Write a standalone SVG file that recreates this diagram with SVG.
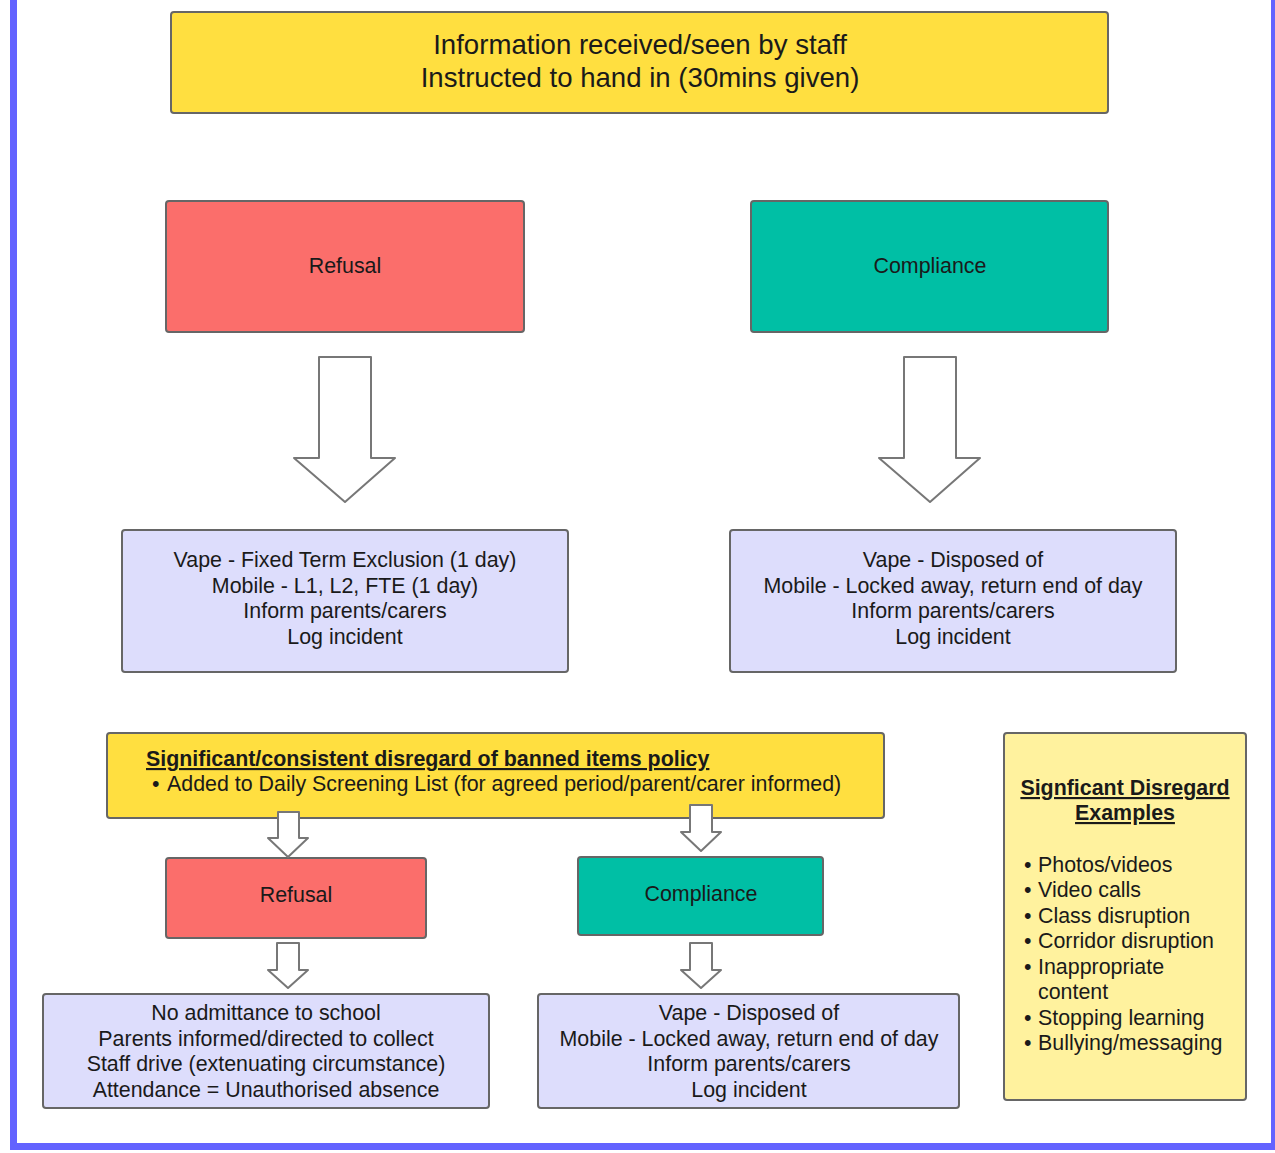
<svg xmlns="http://www.w3.org/2000/svg" width="1275" height="1153" viewBox="0 0 1275 1153">
<style>
text{font-family:"Liberation Sans",Arial,sans-serif;font-size:21.4px;fill:#1a1a1a}
.c{text-anchor:middle}
.big{font-size:27.6px}
.b{font-weight:bold;text-decoration:underline}
.box{stroke:#666;stroke-width:2}
.yel{fill:#FFDF40}
.red{fill:#FB6E6B}
.teal{fill:#00BFA5}
.lav{fill:#DDDDFC}
.pale{fill:#FFF29E}
.arr{fill:#fff;stroke:#777;stroke-width:2;stroke-linejoin:round}
</style>
<rect x="0" y="0" width="1275" height="1153" fill="#fff"/>
<rect x="13.5" y="-10" width="1261" height="1156.5" fill="none" stroke="#6363FF" stroke-width="7"/>

<g id="start">
<rect class="box yel" x="171" y="12" width="937" height="101" rx="3"/>
<text class="c big" x="640" y="54">Information received/seen by staff</text>
<text class="c big" x="640" y="87">Instructed to hand in (30mins given)</text>
</g>

<g id="refusal">
<rect class="box red" x="166" y="201" width="358" height="131" rx="3"/>
<text class="c" x="345" y="273">Refusal</text>
</g>

<g id="compliance">
<rect class="box teal" x="751" y="201" width="357" height="131" rx="3"/>
<text class="c" x="930" y="273">Compliance</text>
</g>

<g id="refusal-outcome">
<rect class="box lav" x="122" y="530" width="446" height="142" rx="3"/>
<text class="c" x="345" y="567">Vape - Fixed Term Exclusion (1 day)</text>
<text class="c" x="345" y="593">Mobile - L1, L2, FTE (1 day)</text>
<text class="c" x="345" y="618">Inform parents/carers</text>
<text class="c" x="345" y="644">Log incident</text>
</g>

<g id="compliance-outcome">
<rect class="box lav" x="730" y="530" width="446" height="142" rx="3"/>
<text class="c" x="953" y="567">Vape - Disposed of</text>
<text class="c" x="953" y="593">Mobile - Locked away, return end of day</text>
<text class="c" x="953" y="618">Inform parents/carers</text>
<text class="c" x="953" y="644">Log incident</text>
</g>

<g id="significant">
<rect class="box yel" x="107" y="733" width="777" height="85" rx="3"/>
<text class="b" x="146" y="766">Significant/consistent disregard of banned items policy</text>
<text x="152" y="791">•</text>
<text x="167" y="791">Added to Daily Screening List (for agreed period/parent/carer informed)</text>
</g>

<g id="refusal-2">
<rect class="box red" x="166" y="858" width="260" height="80" rx="3"/>
<text class="c" x="296" y="902">Refusal</text>
</g>

<g id="compliance-2">
<rect class="box teal" x="578" y="857" width="245" height="78" rx="3"/>
<text class="c" x="701" y="901">Compliance</text>
</g>

<g id="refusal-2-outcome">
<rect class="box lav" x="43" y="994" width="446" height="114" rx="3"/>
<text class="c" x="266" y="1020">No admittance to school</text>
<text class="c" x="266" y="1045.5">Parents informed/directed to collect</text>
<text class="c" x="266" y="1071">Staff drive (extenuating circumstance)</text>
<text class="c" x="266" y="1096.5">Attendance = Unauthorised absence</text>
</g>

<g id="compliance-2-outcome">
<rect class="box lav" x="538" y="994" width="421" height="114" rx="3"/>
<text class="c" x="749" y="1020">Vape - Disposed of</text>
<text class="c" x="749" y="1045.5">Mobile - Locked away, return end of day</text>
<text class="c" x="749" y="1071">Inform parents/carers</text>
<text class="c" x="749" y="1096.5">Log incident</text>
</g>

<g id="examples">
<rect class="box pale" x="1004" y="733" width="242" height="367" rx="3"/>
<text class="c b" x="1125" y="795">Signficant Disregard</text>
<text class="c b" x="1125" y="820">Examples</text>
<text x="1024" y="871.5">•</text><text x="1038" y="871.5">Photos/videos</text>
<text x="1024" y="897">•</text><text x="1038" y="897">Video calls</text>
<text x="1024" y="922.5">•</text><text x="1038" y="922.5">Class disruption</text>
<text x="1024" y="948">•</text><text x="1038" y="948">Corridor disruption</text>
<text x="1024" y="973.5">•</text><text x="1038" y="973.5">Inappropriate</text>
<text x="1038" y="999">content</text>
<text x="1024" y="1024.5">•</text><text x="1038" y="1024.5">Stopping learning</text>
<text x="1024" y="1050">•</text><text x="1038" y="1050">Bullying/messaging</text>
</g>

<g id="connectors">
<path class="arr" d="M319,357 H371 V458 H395 L345,502 L294,458 H319 Z"/>
<path class="arr" d="M904,357 H956 V458 H980 L930,502 L879,458 H904 Z"/>
<path class="arr" d="M278,812 H299 V838 H308 L288,857 L268,838 H278 Z"/>
<path class="arr" d="M690,805 H712 V832 H721 L701,851 L681,832 H690 Z"/>
<path class="arr" d="M277,943 H299 V970 H308 L288,988 L268,970 H277 Z"/>
<path class="arr" d="M690,943 H712 V970 H721 L701,988 L681,970 H690 Z"/>
</g>
</svg>
